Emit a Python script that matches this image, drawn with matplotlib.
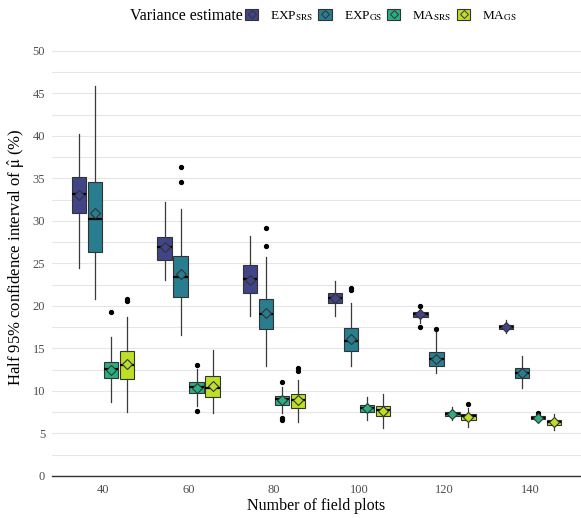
import numpy as np
import matplotlib
matplotlib.use("Agg")
import matplotlib.pyplot as plt
from matplotlib.patches import Patch
from matplotlib.lines import Line2D
from matplotlib.legend_handler import HandlerTuple

plt.rcParams['font.family'] = ['Liberation Serif', 'DejaVu Serif']
plt.rcParams['mathtext.fontset'] = 'stix'

# sample sizes (x categories)
n_plots = [40, 60, 80, 100, 120, 140]
labels = [r"EXP$_{\mathrm{SRS}}$", r"EXP$_{\mathrm{GS}}$", r"MA$_{\mathrm{SRS}}$", r"MA$_{\mathrm{GS}}$"]
colors = ["#414487", "#287D8E", "#29AF7F", "#BDDF26"]

# box stats: whislo, q1, median, q3, whishi
exp_srs = [[24.5, 30.9, 33.2, 35.2, 40.2], [23.1, 25.4, 26.9, 28.1, 32.2], [18.8, 21.5, 23.2, 24.8, 28.2],
           [18.8, 20.3, 20.9, 21.5, 22.9], [18.0, 18.75, 19.0, 19.25, 19.7], [16.85, 17.25, 17.55, 17.8, 18.3]]
exp_gs = [[20.8, 26.35, 30.2, 34.6, 45.8], [16.55, 21.1, 23.4, 25.9, 31.4], [12.9, 17.25, 19.0, 20.8, 25.8],
          [12.9, 14.7, 15.9, 17.4, 20.4], [12.1, 12.95, 13.8, 14.6, 16.9], [10.4, 11.55, 12.15, 12.7, 14.15]]
ma_srs = [[8.75, 11.5, 12.6, 13.45, 16.3], [8.2, 9.8, 10.5, 11.1, 12.6], [7.4, 8.4, 9.0, 9.45, 10.5],
          [6.6, 7.55, 8.0, 8.4, 9.25], [6.6, 7.0, 7.3, 7.55, 8.15], [6.45, 6.65, 6.8, 7.0, 7.15]]
ma_gs = [[7.5, 11.4, 13.0, 14.7, 18.7], [7.45, 9.3, 10.4, 11.7, 14.8], [6.3, 7.95, 8.9, 9.6, 11.3],
         [5.7, 7.1, 7.75, 8.2, 9.7], [5.8, 6.55, 7.0, 7.3, 8.0], [5.35, 6.05, 6.3, 6.6, 7.25]]

# means (diamonds)
exp_srs_mean = [33.0, 26.9, 23.1, 20.9, 19.0, 17.5]
exp_gs_mean = [30.9, 23.7, 19.2, 16.1, 13.8, 12.1]
ma_srs_mean = [12.5, 10.4, 8.9, 8.0, 7.3, 6.85]
ma_gs_mean = [13.2, 10.6, 8.9, 7.7, 6.9, 6.3]

# outliers
exp_srs_out = [[], [], [], [], [20.0, 17.5], []]
exp_gs_out = [[], [34.6, 36.3], [27.1, 29.2], [21.9, 22.1], [17.25], []]
ma_srs_out = [[19.3], [13.1, 7.7], [11.0, 6.8, 6.6], [], [], [7.4]]
ma_gs_out = [[20.6, 20.8], [], [12.3, 12.7], [], [8.5], []]

all_stats = [exp_srs, exp_gs, ma_srs, ma_gs]
all_means = [exp_srs_mean, exp_gs_mean, ma_srs_mean, ma_gs_mean]
all_out = [exp_srs_out, exp_gs_out, ma_srs_out, ma_gs_out]

fig = plt.figure(figsize=(5.81, 5.18), dpi=100)
ax = fig.add_axes([52 / 581, 42 / 518, 1 - 52 / 581, 438 / 518])

dodge = 0.1875
for j in range(4):
    stats = []
    for i in range(len(n_plots)):
        lo, q1, med, q3, hi = all_stats[j][i]
        stats.append(dict(whislo=lo, q1=q1, med=med, q3=q3, whishi=hi,
                          mean=all_means[j][i], fliers=all_out[j][i]))
    pos = np.arange(len(n_plots)) + (j - 1.5) * dodge
    bp = ax.bxp(stats, positions=pos, widths=0.17, patch_artist=True, showmeans=True,
                showcaps=False, manage_ticks=False,
                boxprops=dict(facecolor=colors[j], edgecolor="#333333", linewidth=0.8),
                whiskerprops=dict(color="#3a3a3a", linewidth=0.9),
                medianprops=dict(color="black", linewidth=1.6),
                meanprops=dict(marker="D", markersize=5.5, markerfacecolor=colors[j],
                               markeredgecolor="#333333", markeredgewidth=0.8),
                flierprops=dict(marker="o", markersize=2.8, markerfacecolor="black",
                                markeredgecolor="black"))
    for m in bp["medians"]:
        m.set_zorder(4)
    for m in bp["means"]:
        m.set_zorder(5)

ax.set_xlim(-0.6, 5.6)
ax.set_ylim(0, 51.5)
ax.set_xticks(np.arange(len(n_plots)))
ax.set_xticklabels([str(v) for v in n_plots])
ax.set_yticks(np.arange(0, 51, 5))
ax.set_yticks(np.arange(2.5, 51, 5), minor=True)
ax.tick_params(axis="both", which="both", length=0, labelsize=9, labelcolor="#4d4d4d")
ax.tick_params(axis="y", pad=5)
ax.tick_params(axis="x", pad=6)
ax.grid(axis="y", which="both", color="#e6e6e6", linewidth=0.8)
ax.set_axisbelow(True)
for s in ["top", "right", "left"]:
    ax.spines[s].set_visible(False)
ax.spines["bottom"].set_color("#333333")
ax.spines["bottom"].set_linewidth(1.0)

ax.set_xlabel("Number of field plots", fontsize=11.5, labelpad=1)
ax.set_ylabel(r"Half 95% confidence interval of $\hat{\mathrm{μ}}$ (%)", fontsize=12, labelpad=4)

# legend: title as separate text, keys in one row to its right
fig.text(130 / 581, 1 - 16 / 518, "Variance estimate", fontsize=11.5, ha="left", va="center")
handles = []
for c in colors:
    handles.append((Patch(facecolor=c, edgecolor="#333333", linewidth=0.8),
                    Line2D([], [], marker="D", markersize=4, linestyle="none",
                           markerfacecolor=c, markeredgecolor="#333333", markeredgewidth=0.7)))
fig.legend(handles, labels, handler_map={tuple: HandlerTuple(ndivide=1, pad=0)},
           loc="center left", bbox_to_anchor=(245 / 581, 1 - 16 / 518), ncol=4, frameon=False,
           fontsize=9.5, handlelength=1.0, handleheight=0.8, handletextpad=0.9,
           columnspacing=0.4, borderpad=0, borderaxespad=0)

fig.savefig("out.png", dpi=100)
